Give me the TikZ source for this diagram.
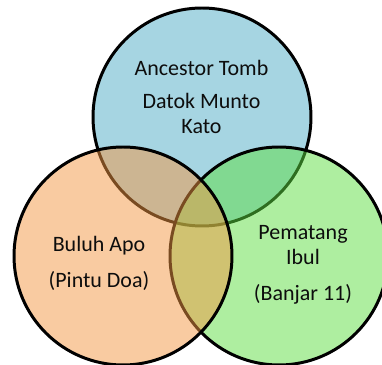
\documentclass[tikz,border=0pt]{standalone}
\usepackage{fontspec}
\setmainfont{Carlito}
\usepackage{xcolor}
\definecolor{tombblue}{RGB}{166,213,226}
\definecolor{apoorange}{RGB}{243,151,67}
\definecolor{ibulgreen}{RGB}{93,221,65}
\usepackage{tikz}
\usetikzlibrary{positioning}

\begin{document}
\begin{tikzpicture}[
  set/.style={draw=black, line width=1.7pt},
  setlabel/.style={font=\fontsize{12.5}{14}\selectfont, text=black!95, align=center}
]
  \useasboundingbox (0,0) rectangle (7.64,7.30);
  \clip (0,0) rectangle (7.64,7.30);

  % the three sets
  \draw[set, fill=tombblue] (4.04,4.96) circle (2.18);
  \draw[set, fill=ibulgreen, fill opacity=0.5] (5.58,2.18) circle (2.18);
  \draw[set, fill=apoorange, fill opacity=0.5] (2.46,2.18) circle (2.18);

  \node[setlabel] (tomb) at (4.03,5.36) {Ancestor Tomb\\[4.5pt]Datok Munto\\Kato};
  \node[setlabel] (buluh) at (1.98,2.04) {Buluh Apo\\[6.5pt](Pintu Doa)};
  \node[setlabel] (pematang) at (6.06,2.00) {Pematang\\Ibul\\[7pt](Banjar 11)};
\end{tikzpicture}
\end{document}
